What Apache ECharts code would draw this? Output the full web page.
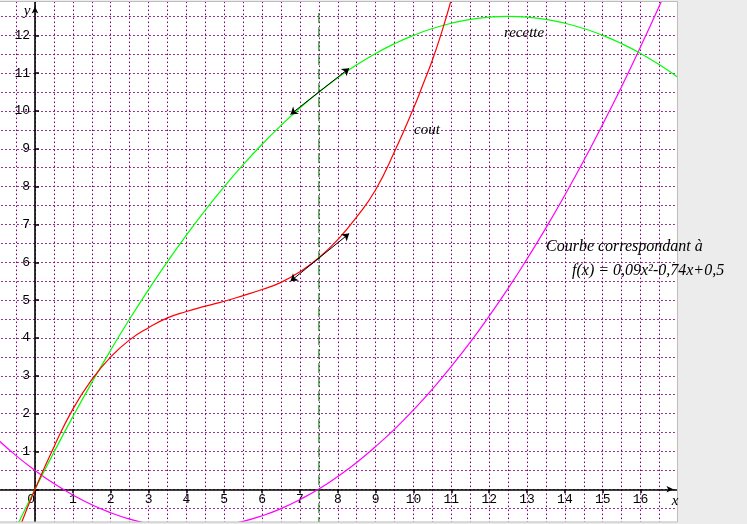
<!DOCTYPE html>
<html>
<head>
<meta charset="utf-8">
<title>recette / cout</title>
<script src="https://cdn.jsdelivr.net/npm/echarts@6/dist/echarts.min.js"></script>
<style>
  html, body { margin: 0; padding: 0; background: #fff; }
  #chart { width: 747px; height: 524px; }
</style>
</head>
<body>
<div id="chart"></div>
<script>
// bornes des axes (unites du repere)
var xMin = -1, xMax = 17
var yMin = -1, yMax = 13

// recette (courbe verte)
var xRecette = [-0.5, 0, 0.5, 1, 1.5, 2, 2.5, 3, 3.5, 4, 4.5, 5, 5.5, 6, 6.5, 7, 7.5, 8, 8.5,
  9, 9.5, 10, 10.5, 11, 11.5, 12, 12.5, 13, 13.5, 14, 14.5, 15, 15.5, 16, 16.5, 17]
var yRecette = [-1.02, 0, 0.98, 1.92, 2.82, 3.68, 4.5, 5.28, 6.02, 6.72, 7.38, 8.0, 8.58, 9.12, 9.62,
  10.08, 10.5, 10.88, 11.22, 11.52, 11.78, 12.0, 12.18, 12.32, 12.42, 12.48, 12.5, 12.48, 12.42,
  12.32, 12.18, 12.0, 11.78, 11.52, 11.22, 10.88]

// cout (courbe rouge)
var xCout = [-0.4, 0, 0.5, 1, 1.5, 2, 2.5, 3, 3.5, 4, 4.5, 5, 5.5, 6, 6.5, 7, 7.5, 8, 8.5, 9, 9.5,
  10, 10.25, 10.5, 10.75, 11]
var yCout = [-1.0, 0, 1.12, 2.12, 2.9, 3.5, 3.95, 4.27, 4.53, 4.7, 4.84, 4.97, 5.12, 5.28, 5.47,
  5.75, 6.12, 6.6, 7.2, 7.92, 8.93, 10.07, 10.7, 11.35, 12.1, 12.95]

// courbe de f (magenta)
var xCourbeF = [-1, -0.5, 0, 0.5, 1, 1.5, 2, 2.5, 3, 3.5, 4, 4.5, 5, 5.5, 6, 6.5, 7, 7.5, 8, 8.5,
  9, 9.5, 10, 10.5, 11, 11.5, 12, 12.5, 13, 13.5, 14, 14.5, 15, 15.5, 16, 16.5, 17]
var yCourbeF = [1.33, 0.89, 0.5, 0.15, -0.15, -0.41, -0.62, -0.79, -0.91, -0.99, -1.02, -1.01,
  -0.95, -0.85, -0.70, -0.51, -0.27, 0.01, 0.34, 0.71, 1.13, 1.59, 2.10, 2.65, 3.25, 3.89, 4.58,
  5.31, 6.09, 6.91, 7.78, 8.69, 9.65, 10.65, 11.70, 12.79, 13.93]

// tangentes (fleches) et droite x = 7,5
var tangenteRecette = [[6.75, 9.91], [8.3, 11.13]]
var tangenteCout = [[6.75, 5.5], [8.3, 6.76]]
var verticale = [[7.5, -1], [7.5, 12.6]]

function zip(xs, ys) {
  var out = []
  for (var i = 0; i < xs.length; i++) out.push([xs[i], ys[i]])
  return out
}

var chart = echarts.init(document.getElementById('chart'))
var dots = { color: '#800080', width: 1, type: [1.6, 2.4] }
var serif = '"Liberation Serif", "Times New Roman", serif'
var mono = 'Liberation Mono'
var gris = '#ececec'

// une unite = 37.85 px en x, 37.83 px en y
var gridLeft = -2.85, gridTop = -2.49

var option = {
  animation: false,
  backgroundColor: '#fff',
  grid: {
    left: gridLeft,
    top: gridTop,
    width: 681.3,
    height: 529.6,
    outerBoundsMode: 'none',
    containLabel: false
  },
  xAxis: {
    type: 'value',
    min: xMin,
    max: xMax,
    interval: 1,
    position: 'bottom',
    offset: -37.83, // remonte l'axe sur y = 0
    axisLine: {
      onZero: false,
      lineStyle: { color: '#000', width: 1.6 },
      symbol: ['none', 'arrow'],
      symbolSize: [5, 7],
      symbolOffset: [0, -5]
    },
    axisTick: { show: true, length: 4, lineStyle: { color: '#000', width: 1.5 } },
    axisLabel: {
      show: true,
      margin: 4,
      fontFamily: mono,
      fontSize: 13,
      color: '#000',
      formatter: function (v) {
        if (v < 0 || v > 16) return ''
        return v === 0 ? '0 ' : String(v)
      }
    },
    splitLine: { show: true, lineStyle: dots },
    minorTick: { show: false, splitNumber: 2 },
    minorSplitLine: { show: true, lineStyle: dots }
  },
  yAxis: {
    type: 'value',
    min: yMin,
    max: yMax,
    interval: 1,
    position: 'left',
    offset: -37.85, // decale l'axe sur x = 0
    axisLine: {
      onZero: false,
      lineStyle: { color: '#000', width: 1.6 },
      symbol: ['none', 'arrow'],
      symbolSize: [5, 7],
      symbolOffset: [0, -9]
    },
    axisTick: { show: true, inside: true, length: 4, lineStyle: { color: '#000', width: 1.5 } },
    axisLabel: {
      show: true,
      margin: 5,
      fontFamily: mono,
      fontSize: 13,
      color: '#000',
      formatter: function (v) {
        return v <= 0 || v > 12 ? '' : String(v)
      }
    },
    splitLine: { show: true, lineStyle: dots },
    minorTick: { show: false, splitNumber: 2 },
    minorSplitLine: { show: true, lineStyle: dots }
  },
  series: [
    {
      name: 'f',
      type: 'line',
      data: zip(xCourbeF, yCourbeF),
      smooth: true,
      showSymbol: false,
      symbol: 'none',
      lineStyle: { color: '#ff00ff', width: 1.2 },
      silent: true
    },
    {
      name: 'recette',
      type: 'line',
      data: zip(xRecette, yRecette),
      smooth: true,
      showSymbol: false,
      symbol: 'none',
      lineStyle: { color: '#00ff00', width: 1.2 },
      silent: true
    },
    {
      name: 'cout',
      type: 'line',
      data: zip(xCout, yCout),
      smooth: true,
      showSymbol: false,
      symbol: 'none',
      lineStyle: { color: '#ff0000', width: 1.2 },
      silent: true
    },
    {
      name: 'x = 7,5',
      type: 'line',
      data: verticale,
      showSymbol: false,
      symbol: 'none',
      lineStyle: { color: '#007f00', width: 1, type: [10, 4] },
      silent: true
    },
    {
      name: 'tangentes',
      type: 'lines',
      coordinateSystem: 'cartesian2d',
      symbol: ['arrow', 'arrow'],
      symbolSize: 7,
      lineStyle: { color: '#000', width: 1, opacity: 1, curveness: 0 },
      data: [{ coords: tangenteRecette }, { coords: tangenteCout }],
      silent: true,
      z: 5
    }
  ],
  graphic: [
    // cache + cadre gris autour de la zone de trace
    { type: 'rect', z: 50, silent: true, shape: { x: 678, y: 0, width: 69, height: 524 }, style: { fill: gris } },
    { type: 'rect', z: 50, silent: true, shape: { x: 0, y: 522, width: 747, height: 4 }, style: { fill: gris } },
    { type: 'rect', z: 50, silent: true, shape: { x: 0, y: 0, width: 747, height: 1 }, style: { fill: gris } },
    { type: 'rect', z: 51, silent: true, shape: { x: -2, y: 1.5, width: 679.5, height: 520.5 },
      style: { fill: 'none', stroke: '#bdbdbd', lineWidth: 1 } },
    { type: 'text', z: 60, x: 27, y: 11,
      style: { text: 'y', font: 'italic 15px ' + serif, fill: '#000', align: 'center', verticalAlign: 'middle' } },
    { type: 'text', z: 60, x: 675, y: 501,
      style: { text: 'x', font: 'italic 15px ' + serif, fill: '#000', align: 'center', verticalAlign: 'middle' } },
    { type: 'text', z: 60, x: 524, y: 33,
      style: { text: 'recette', font: 'italic 15px ' + serif, fill: '#000', align: 'center', verticalAlign: 'middle' } },
    { type: 'text', z: 60, x: 427, y: 130,
      style: { text: 'cout', font: 'italic 15px ' + serif, fill: '#000', align: 'center', verticalAlign: 'middle' } },
    { type: 'text', z: 60, x: 546, y: 247,
      style: { text: 'Courbe correspondant à', font: 'italic 16px ' + serif, fill: '#000', align: 'left', verticalAlign: 'middle' } },
    { type: 'text', z: 60, x: 572, y: 271,
      style: { text: 'f(x) = 0,09x²-0,74x+0,5', font: 'italic 16px ' + serif, fill: '#000', align: 'left', verticalAlign: 'middle' } }
  ]
}

chart.setOption(option)
</script>
</body>
</html>
